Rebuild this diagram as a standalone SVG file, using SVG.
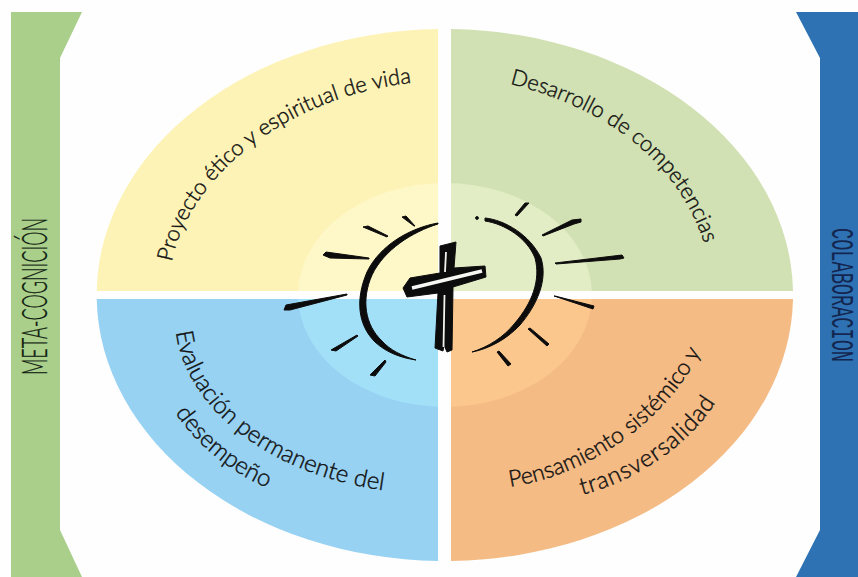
<svg xmlns="http://www.w3.org/2000/svg" width="858" height="577" viewBox="0 0 858 577">
<style>
.q{font-family:"Lato","Noto Sans",sans-serif;font-size:22px;font-weight:300;fill:#111;stroke:#111;stroke-width:.4}
.big{font-size:24px}
.mid{font-size:23px}
.ink{fill:#0c0c0c;stroke:#0c0c0c;stroke-width:1;stroke-linejoin:round}
</style>
<defs>
<clipPath id="inner"><ellipse cx="445" cy="295" rx="147" ry="112"/></clipPath>
<path id="p1" d="M172,262 C185,190 270,100 410,83 L450,79"/>
<path id="p2" d="M510,84 C575,100 670,140 704,243 L712,275"/>
<path id="p3" d="M176,332 C185,405 265,475 388,491 L430,496"/>
<path id="p4" d="M175,413 Q212,465 270,489 L310,503"/>
<path id="p5" d="M510,487 C590,475 670,420 705,343 L720,310"/>
<path id="p6" d="M582,495 C640,480 695,440 718,398 L735,365"/>
</defs>
<rect width="858" height="577" fill="#fefefe"/>
<g id="band-left">
<path d="M11,12 H82 L60,58 V530 L82,577 H11 Z" fill="#a9cf8b"/>
<text transform="translate(47,375) rotate(-90)" font-family="Lato, sans-serif" font-weight="300" font-size="35" fill="#0f1a0f" stroke="#0f1a0f" stroke-width=".3" textLength="157" lengthAdjust="spacingAndGlyphs">META-COGNICIÓN</text>
</g>
<g id="band-right">
<path d="M796,12 H858 V577 H796 L820,530 V58 Z" fill="#2e72b4"/>
<text transform="translate(832,228) rotate(90)" font-family="Liberation Mono, monospace" font-size="31" fill="#14264f" textLength="134" lengthAdjust="spacingAndGlyphs">COLABORACION</text>
</g>
<g id="quadrant-yellow">
<path d="M438,291 H96.700 A348.500,266 0 0 1 438,29 Z" fill="#fdf3b6"/>
<g clip-path="url(#inner)"><rect x="290" y="180" width="148" height="111" fill="#fef7c8"/></g>
<text class="q"><textPath href="#p1">Proyecto ético y espiritual de vida</textPath></text>
</g>
<g id="quadrant-green">
<path d="M451,291 H793 A348.500,266 0 0 0 451,29 Z" fill="#d2e1b3"/>
<g clip-path="url(#inner)"><rect x="451" y="180" width="150" height="111" fill="#e2edc6"/></g>
<text class="q"><textPath href="#p2">Desarrollo de competencias</textPath></text>
</g>
<g id="quadrant-blue">
<path d="M438,299 H96.700 A348.500,266 0 0 0 438,561 Z" fill="#97d2f3"/>
<g clip-path="url(#inner)"><rect x="290" y="299" width="148" height="111" fill="#a2e0f8"/></g>
<text class="q big"><textPath href="#p3">Evaluación permanente del</textPath></text>
<text class="q big"><textPath href="#p4">desempeño</textPath></text>
</g>
<g id="quadrant-orange">
<path d="M451,299 H793 A348.500,266 0 0 1 451,561 Z" fill="#f4bb85"/>
<g clip-path="url(#inner)"><rect x="451" y="299" width="150" height="111" fill="#fbc78d"/></g>
<text class="q mid"><textPath href="#p5">Pensamiento sistémico y</textPath></text>
<text class="q big"><textPath href="#p6" letter-spacing=".8">transversalidad</textPath></text>
</g>
<g id="cross-sun">
<path class="ink" d="M438,223 C410,228 380,245 367,272 C355,300 358,325 375,342 C387,353 402,358 416,360 C402,356 390,350 382,341 C365,325 361,300 372,275 C384,250 412,232 438,224 Z"/>
<path class="ink" d="M485,218 C505,220 530,235 541,258 C548,280 537,305 520,325 C506,340 488,349 472,352 C488,347 504,337 515,323 C532,303 541,280 535,258 C527,238 505,224 485,221 Z"/>
<circle class="ink" cx="477" cy="218" r="1.400"/>
<path class="ink" d="M402,217 L406,216 L415,226 L414,226 Z"/>
<path class="ink" d="M363,227 L368,226 L388,236 L387,237 Z"/>
<path class="ink" d="M323,255 L326,252 L369,258 L369,259 L330,258 Z"/>
<path class="ink" d="M284,310 L286,305 L347,294 L347,295 L290,310 Z"/>
<path class="ink" d="M331,350 L357,335 L358,336 L336,351 Z"/>
<path class="ink" d="M370,375 L385,360 L386,362 L375,376 Z"/>
<path class="ink" d="M528,329 L530,328 L549,344 L547,346 Z"/>
<path class="ink" d="M497,352 L499,351 L511,364 L508,366 Z"/>
<path class="ink" d="M554,296 L555,296 L594,306 L593,309 Z"/>
<path class="ink" d="M555,263 L622,255 L624,258 L620,259 L556,264 Z"/>
<path class="ink" d="M542,235 L572,220 L581,219 L581,222 L574,224 L543,236 Z"/>
<path class="ink" d="M515,215 L525,203 L529,203 L517,216 Z"/>
<path class="ink" d="M440,246 L456,242 L454,268 L485,266 L486,277 L453,287 L452,350 L447,352 L444,345 L443,351 L435,348 L438,293 L407,297 L403,288 L410,278 L440,273 Z"/>
<path d="M446,252 L445,272 M444.500,295 L443.500,347" stroke="#f2f2ee" stroke-width="1.800" fill="none"/>
<path d="M412,288 L482,271" stroke="#f6f6f2" stroke-width="3.400" fill="none"/>
</g>
</svg>
